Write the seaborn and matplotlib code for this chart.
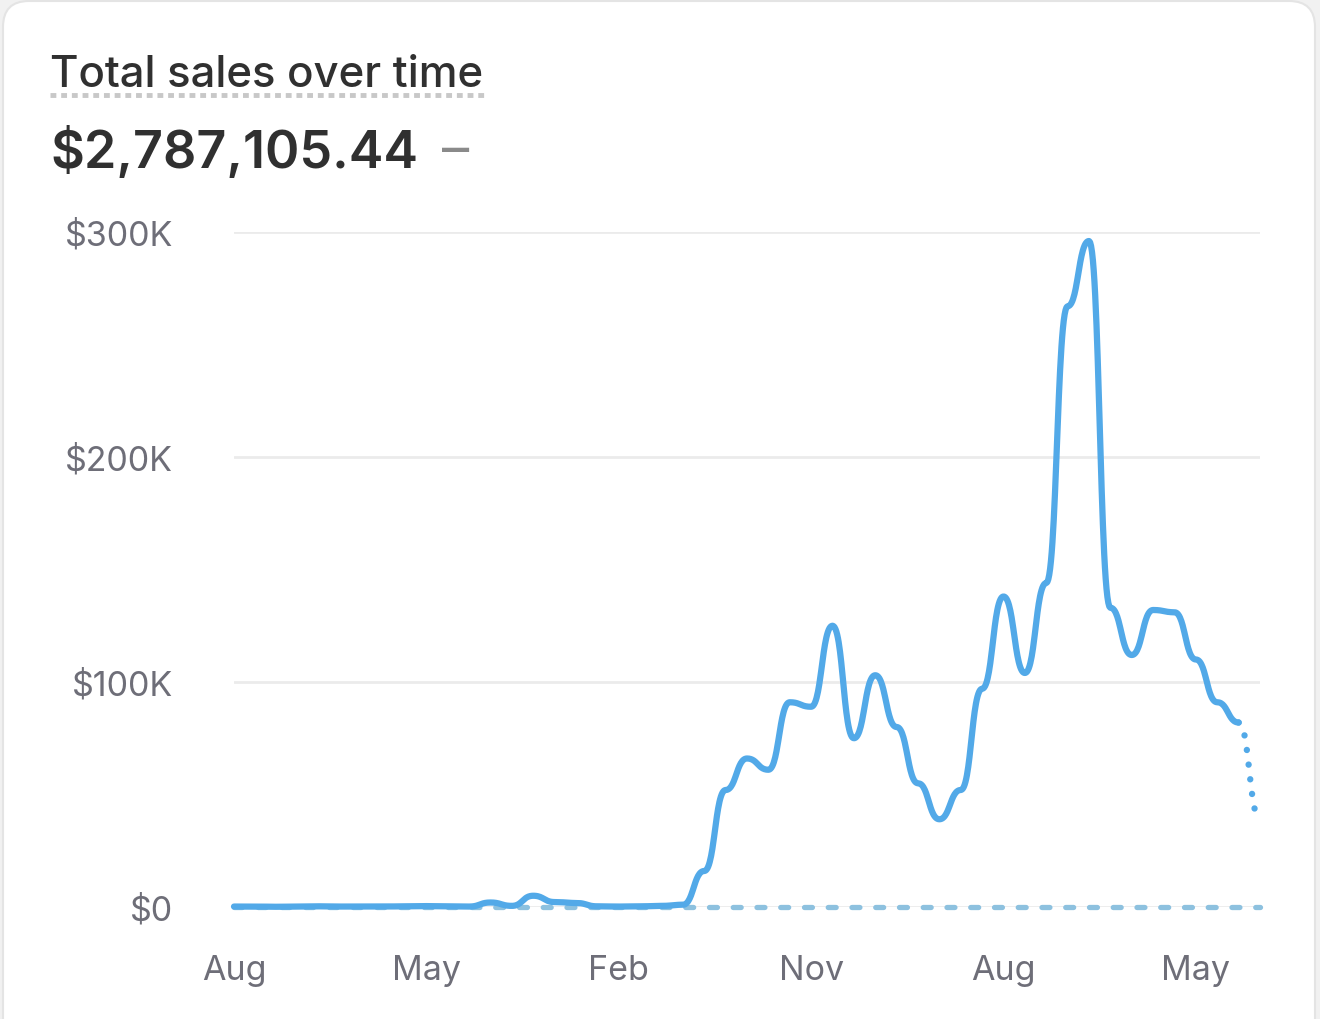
import numpy as np
import pandas as pd
import matplotlib
matplotlib.use("Agg")
from matplotlib import pyplot as plt
from matplotlib.patches import FancyBboxPatch
from matplotlib.lines import Line2D
from matplotlib.ticker import FuncFormatter
import seaborn as sns

# monthly total sales in $K, Aug (year 1) .. Aug (year 5), last month incomplete
sales_k = [0.2, 0.2, 0.1, 0.2, 0.3, 0.2, 0.2, 0.2, 0.3, 0.4, 0.3, 0.2,
           2.0, 0.5, 5.0, 2.2, 1.8, 0.3, 0.2, 0.3, 0.5, 1.0,
           16, 52, 66, 61, 91, 89, 125, 75, 103, 80, 55, 39, 52, 97,
           138, 104, 144, 267, 296, 133, 112, 132, 131, 110, 91, 82, 39]
prev_k = [0.0] * len(sales_k)  # comparison period, no sales
tick_months = [0, 9, 18, 27, 36, 45]
tick_labels = ["Aug", "May", "Feb", "Nov", "Aug", "May"]
y_ticks_k = [0, 100, 200, 300]

title = "Total sales over time"
total = "$2,787,105.44"

BLUE = "#52a9e8"
PREV = "#8dc1df"
GRID = "#ebebeb"
TICK = "#6e6e78"
DARK = "#303030"


def bump_curve(x, y, n=30):
    # d3 curveBumpX: cubic bezier per segment, flat tangent at every point
    x = np.asarray(x, float)
    y = np.asarray(y, float)
    t = np.linspace(0, 1, n)
    xs, ys = [], []
    for i in range(len(y) - 1):
        xm = (x[i] + x[i + 1]) / 2
        px = [x[i], xm, xm, x[i + 1]]
        py = [y[i], y[i], y[i + 1], y[i + 1]]
        b = [(1 - t)**3, 3 * (1 - t)**2 * t, 3 * (1 - t) * t**2, t**3]
        seg_x = sum(bk * p for bk, p in zip(b, px))
        seg_y = sum(bk * p for bk, p in zip(b, py))
        if i > 0:
            seg_x, seg_y = seg_x[1:], seg_y[1:]
        xs.append(seg_x)
        ys.append(seg_y)
    return np.concatenate(xs), np.concatenate(ys)


df = pd.DataFrame({"month": np.arange(len(sales_k)), "sales": sales_k, "prev": prev_k})

sns.set_theme(style="white")
plt.rcParams["font.family"] = ["Inter", "DejaVu Sans"]

fig = plt.figure(figsize=(13.2, 10.2), dpi=100, facecolor="#f1f1f1")
card = FancyBboxPatch((3, -60), 1312, 1078, boxstyle="round,pad=0,rounding_size=26",
                      transform=None, facecolor="white", edgecolor="#e4e4e4", linewidth=1.5,
                      zorder=-10)
fig.patches.append(card)

ax = fig.add_axes([234 / 1320, 1 - 908 / 1020, 1026 / 1320, 675 / 1020])
ax.set_facecolor("none")
ax.set_zorder(1)

# comparison period (dashed baseline)
sns.lineplot(data=df, x="month", y="prev", ax=ax, color=PREV, linewidth=3.8, zorder=2)
ax.lines[-1].set_dashes([1.5, 3.0])
ax.lines[-1].set_dash_capstyle("round")
ax.lines[-1].set_clip_on(False)

# full months solid, last (partial) month dotted
xs, ys = bump_curve(df["month"], df["sales"])
cut = np.searchsorted(xs, len(sales_k) - 2, side="right")
solid = pd.DataFrame({"x": xs[:cut], "y": ys[:cut]})
dotted = pd.DataFrame({"x": xs[cut - 1:], "y": ys[cut - 1:]})
sns.lineplot(data=solid, x="x", y="y", ax=ax, color=BLUE, linewidth=4.5, sort=False,
             estimator=None, zorder=3)
ax.lines[-1].set_solid_capstyle("round")
ax.lines[-1].set_solid_joinstyle("round")
ax.lines[-1].set_clip_on(False)
sns.lineplot(data=dotted, x="x", y="y", ax=ax, color=BLUE, linewidth=4.6, sort=False,
             estimator=None, zorder=3)
ax.lines[-1].set_dashes([0.01, 2.3])
ax.lines[-1].set_dash_capstyle("round")
ax.lines[-1].set_clip_on(False)

ax.set_xlim(0, len(sales_k) - 1)
ax.set_ylim(0, 300)
ax.set_yticks(y_ticks_k)
ax.yaxis.set_major_formatter(FuncFormatter(lambda v, _: "$0" if v == 0 else f"${int(v)}K"))
ax.set_xticks(tick_months)
ax.set_xticklabels(tick_labels)
ax.grid(axis="y", color=GRID, linewidth=2.0)
ax.grid(axis="x", visible=False)
ax.set_axisbelow(True)
for sp in ax.spines.values():
    sp.set_visible(False)
ax.tick_params(axis="y", length=0, pad=44, labelsize=24.5, labelcolor=TICK)
ax.tick_params(axis="x", length=0, pad=34, labelsize=24.5, labelcolor=TICK)
ax.set_xlabel("")
ax.set_ylabel("")

# header
fig.text(50 / 1320, 1 - 87 / 1020, title, fontsize=31.5, color=DARK, fontweight="medium",
         va="baseline", ha="left")
fig.add_artist(Line2D([50 / 1320, 484 / 1320], [1 - 96 / 1020] * 2, transform=fig.transFigure,
                      color="#c8c8c8", linewidth=3.5, linestyle=(0, (1.2, 1.0))))
fig.text(50 / 1320, 1 - 168 / 1020, total, fontsize=37.5, color=DARK, fontweight="semibold",
         va="baseline", ha="left")
fig.text(442 / 1320, 1 - 167 / 1020, "–", fontsize=39, color="#8a8a8a", va="baseline", ha="left")

fig.savefig("out.png", dpi=100, facecolor=fig.get_facecolor())
